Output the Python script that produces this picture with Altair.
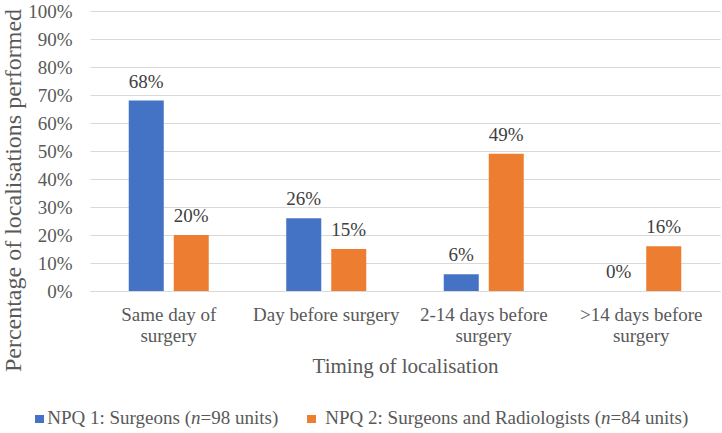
import altair as alt
import pandas as pd

# Timing categories ("|" marks a line break in the axis label)
categories = [
    "Same day of|surgery",
    "Day before surgery",
    "2-14 days before|surgery",
    ">14 days before|surgery",
]
series_names = [
    "NPQ 1: Surgeons (n=98 units)",
    "NPQ 2: Surgeons and Radiologists (n=84 units)",
]
npq1_pct = [68, 26, 6, 0]
npq2_pct = [20, 15, 49, 16]
series_colors = ["#4472C4", "#ED7D31"]
y_ticks = [0, 10, 20, 30, 40, 50, 60, 70, 80, 90, 100]

rows = []
for cat, a, b in zip(categories, npq1_pct, npq2_pct):
    rows.append({"timing": cat, "survey": series_names[0], "share": a / 100})
    rows.append({"timing": cat, "survey": series_names[1], "share": b / 100})
df = pd.DataFrame(rows)

FONT = "Liberation Serif"
AXIS_GREY = "#595959"
W, H = 630, 280

x_enc = alt.X(
    "timing:N",
    sort=categories,
    scale=alt.Scale(paddingInner=0, paddingOuter=0),
    axis=alt.Axis(
        title="Timing of localisation",
        labelExpr="split(datum.label, '|')",
        labelAngle=0,
        labelFont=FONT,
        labelFontSize=19,
        labelColor=AXIS_GREY,
        labelLineHeight=21,
        labelPadding=14,
        labelLimit=0,
        ticks=False,
        tickSize=0,
        domainColor="#D9D9D9",
        domainWidth=1,
        grid=False,
        titleFont=FONT,
        titleFontSize=21,
        titleFontWeight="normal",
        titleColor=AXIS_GREY,
        titleBaseline="alphabetic",
        titleY=81,
    ),
)
xoff_enc = alt.XOffset(
    "survey:N",
    sort=series_names,
    scale=alt.Scale(paddingInner=0.222, paddingOuter=0.861),
)
y_enc = alt.Y(
    "share:Q",
    scale=alt.Scale(domain=[0, 1], nice=False),
    axis=alt.Axis(
        title="Percentage of localisations performed",
        format=".0%",
        values=[t / 100 for t in y_ticks],
        tickCount=11,
        labelOverlap=False,
        labelFont=FONT,
        labelFontSize=19,
        labelColor=AXIS_GREY,
        labelPadding=18,
        ticks=False,
        tickSize=0,
        domain=False,
        grid=True,
        gridColor="#D9D9D9",
        gridWidth=1,
        titleFont=FONT,
        titleFontSize=24,
        titleFontWeight="normal",
        titleColor=AXIS_GREY,
        titleBaseline="alphabetic",
        titleX=-70,
        titleY=179,
    ),
)
color_enc = alt.Color(
    "survey:N",
    sort=series_names,
    scale=alt.Scale(domain=series_names, range=series_colors),
    legend=None,
)

base = alt.Chart(df)
bars = base.mark_bar().encode(x=x_enc, xOffset=xoff_enc, y=y_enc, color=color_enc)
values = base.mark_text(
    font=FONT, fontSize=19, color="#404040", baseline="alphabetic", dy=-13
).encode(
    x=x_enc,
    xOffset=xoff_enc,
    y=y_enc,
    text=alt.Text("share:Q", format=".0%"),
)

# Legend drawn by hand so the "n" can be set in italics
leg_df = pd.DataFrame({"k": [0]})
leg = alt.Chart(leg_df)
LY = 413


def legend_item(color, sq_x, n_x, prefix, suffix):
    square = leg.mark_rect(color=color).encode(
        x=alt.value(sq_x), x2=alt.value(sq_x + 9),
        y=alt.value(LY - 9), y2=alt.value(LY - 1),
    )
    pre = leg.mark_text(
        text=prefix, font=FONT, fontSize=19, color=AXIS_GREY,
        align="right", baseline="alphabetic",
    ).encode(x=alt.value(n_x), y=alt.value(LY))
    ital = leg.mark_text(
        text="n", font=FONT, fontSize=19, fontStyle="italic", color=AXIS_GREY,
        align="left", baseline="alphabetic",
    ).encode(x=alt.value(n_x), y=alt.value(LY))
    post = leg.mark_text(
        text=suffix, font=FONT, fontSize=19, color=AXIS_GREY,
        align="left", baseline="alphabetic",
    ).encode(x=alt.value(n_x + 9.5), y=alt.value(LY))
    return [square, pre, ital, post]


legend_layers = legend_item(series_colors[0], -55, 101, "NPQ 1: Surgeons (", "=98 units)") + \
    legend_item(series_colors[1], 217, 511, "NPQ 2: Surgeons and Radiologists (", "=84 units)")

chart = alt.layer(bars, values, *legend_layers).properties(
    width=W,
    height=H,
    autosize=alt.AutoSizeParams(type="none"),
    padding={"left": 90, "top": 11, "right": 2, "bottom": 142},
    background="white",
).configure_view(stroke=None)

chart.save("out.html", embed_options={"renderer": "svg", "actions": False})
